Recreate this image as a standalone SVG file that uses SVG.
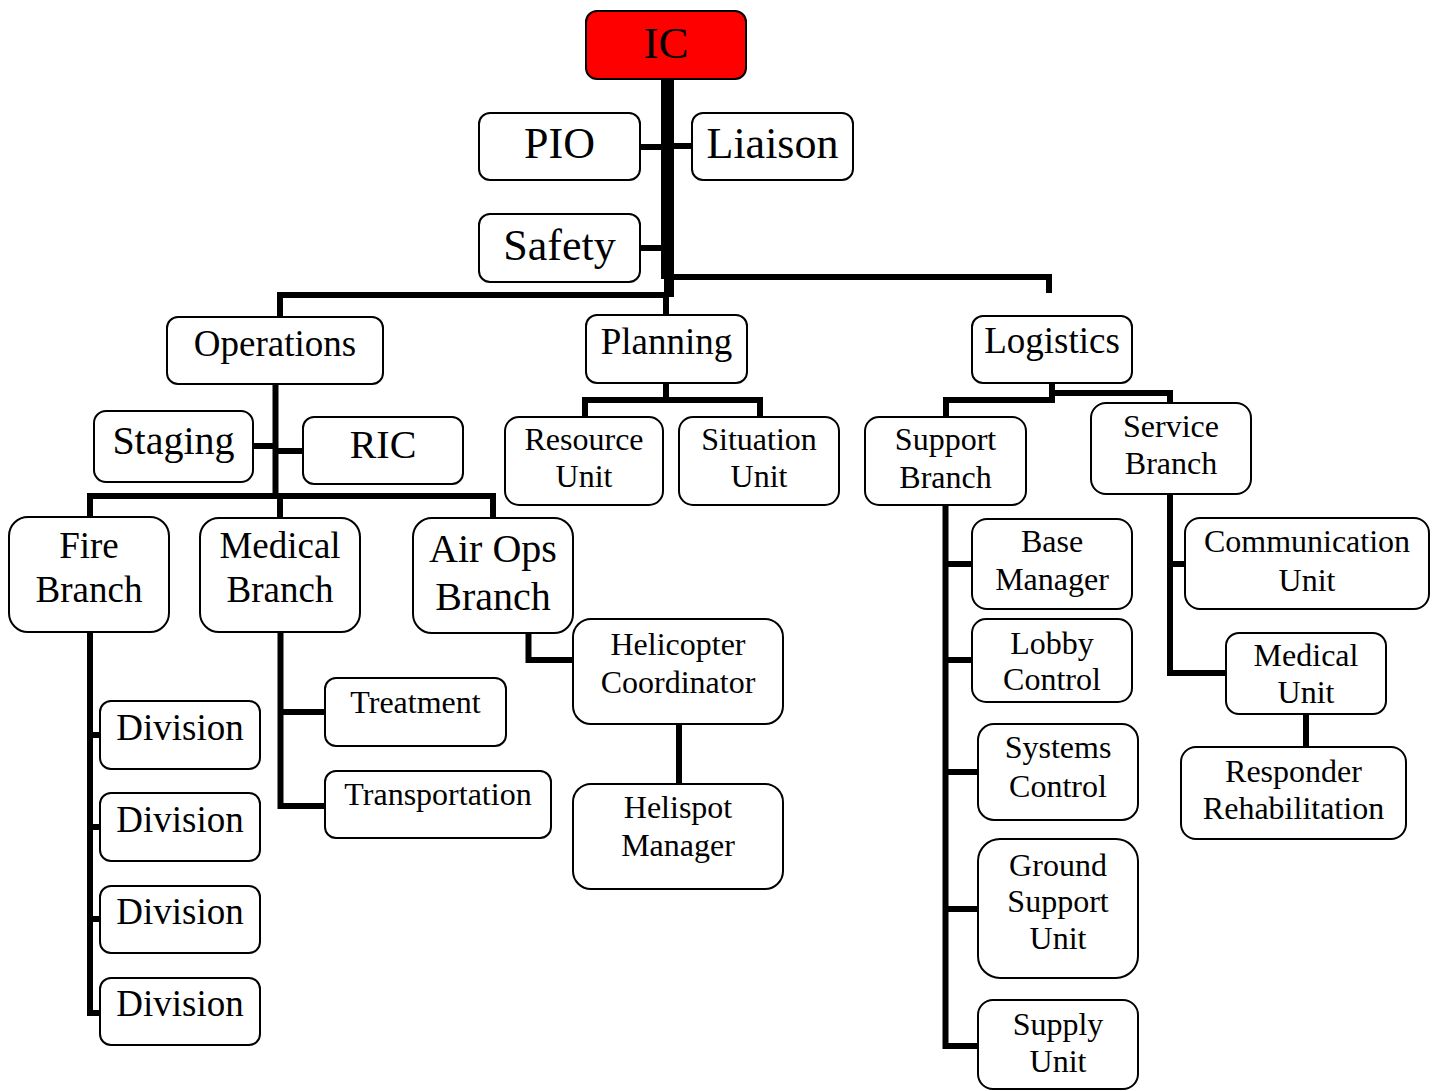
<svg xmlns="http://www.w3.org/2000/svg" width="1439" height="1091" viewBox="0 0 1439 1091">
<style>
.b{fill:#fff;stroke:#000;stroke-width:2}
.r{fill:#ff0000;stroke:#000;stroke-width:2}
.c{fill:none;stroke:#000;stroke-width:6;stroke-linejoin:miter;stroke-linecap:butt}
text{font-family:"Liberation Serif","Times New Roman",serif;fill:#000;text-anchor:middle}
.f45{font-size:45px}.f44{font-size:44px}.f40{font-size:40px}.f37{font-size:37px}.f32{font-size:32px}
</style>
<rect width="1439" height="1091" fill="#fff"/>
<g id="connectors">
<rect x="661" y="79" width="13" height="200" fill="#000"/>
<rect x="664" y="279" width="10" height="18" fill="#000"/>
<path class="c" d="M666 297V316"/>
<path class="c" d="M640 147H661M674 146H692M640 248H661"/>
<path class="c" d="M674 277H1049V293"/>
<path class="c" d="M664 295H280V317"/>
<path class="c" d="M275.5 384V499"/>
<path class="c" d="M253 446H275M275 451H303"/>
<path class="c" d="M90 517V496H493V518M280 496V518"/>
<path class="c" d="M666 383V400M585 417V400H760V417"/>
<path class="c" d="M1052 383V400H946V417M1052 393H1170V403"/>
<path class="c" d="M90 632V1013H100M90 735H100M90 827H100M90 919H100"/>
<path class="c" d="M280.5 632V806H325M280 712H325"/>
<path class="c" d="M528.5 633V660H573"/>
<path class="c" d="M679 724V784"/>
<path class="c" d="M945.5 505V1046H978M945 564H972M945 660H972M945 772H978M945 909H978"/>
<path class="c" d="M1170 494V673H1226M1170 564H1185"/>
<path class="c" d="M1306 714V747"/>
</g>
<g id="ic"><rect class="r" x="586" y="11" width="160" height="68" rx="11"/><text class="f45" x="666" y="58">IC</text></g>
<g id="pio"><rect class="b" x="479" y="113" width="161" height="67" rx="11"/><text class="f44" x="559.5" y="158">PIO</text></g>
<g id="liaison"><rect class="b" x="692" y="113" width="161" height="67" rx="11"/><text class="f44" x="772.5" y="158">Liaison</text></g>
<g id="safety"><rect class="b" x="479" y="214" width="161" height="68" rx="11"/><text class="f44" x="559.5" y="260">Safety</text></g>
<g id="operations"><rect class="b" x="167" y="317" width="216" height="67" rx="11"/><text class="f37" x="275" y="356">Operations</text></g>
<g id="planning"><rect class="b" x="586" y="315" width="161" height="68" rx="11"/><text class="f37" x="666.5" y="354">Planning</text></g>
<g id="logistics"><rect class="b" x="972" y="316" width="160" height="67" rx="11"/><text class="f37" x="1052" y="353">Logistics</text></g>
<g id="staging"><rect class="b" x="94" y="411" width="159" height="71" rx="12"/><text class="f40" x="173.5" y="454">Staging</text></g>
<g id="ric"><rect class="b" x="303" y="417" width="160" height="67" rx="11"/><text class="f40" x="383" y="458">RIC</text></g>
<g id="fire-branch"><rect class="b" x="9" y="517" width="160" height="115" rx="19"/><text class="f37" x="89" y="558">Fire</text><text class="f37" x="89" y="602">Branch</text></g>
<g id="medical-branch"><rect class="b" x="200" y="518" width="160" height="114" rx="19"/><text class="f37" x="280" y="558">Medical</text><text class="f37" x="280" y="602">Branch</text></g>
<g id="air-ops-branch"><rect class="b" x="413" y="518" width="160" height="115" rx="19"/><text class="f40" x="493" y="562">Air Ops</text><text class="f40" x="493" y="610">Branch</text></g>
<g id="resource-unit"><rect class="b" x="505" y="417" width="158" height="88" rx="14"/><text class="f32" x="584" y="450">Resource</text><text class="f32" x="584" y="487">Unit</text></g>
<g id="situation-unit"><rect class="b" x="679" y="417" width="160" height="88" rx="14"/><text class="f32" x="759" y="450">Situation</text><text class="f32" x="759" y="487">Unit</text></g>
<g id="support-branch"><rect class="b" x="865" y="417" width="161" height="88" rx="14"/><text class="f32" x="945.5" y="450">Support</text><text class="f32" x="945.5" y="488">Branch</text></g>
<g id="service-branch"><rect class="b" x="1091" y="403" width="160" height="91" rx="15"/><text class="f32" x="1171" y="437">Service</text><text class="f32" x="1171" y="474">Branch</text></g>
<g id="base-manager"><rect class="b" x="972" y="519" width="160" height="90" rx="15"/><text class="f32" x="1052" y="552">Base</text><text class="f32" x="1052" y="590">Manager</text></g>
<g id="lobby-control"><rect class="b" x="972" y="619" width="160" height="83" rx="14"/><text class="f32" x="1052" y="654">Lobby</text><text class="f32" x="1052" y="690">Control</text></g>
<g id="systems-control"><rect class="b" x="978" y="724" width="160" height="96" rx="16"/><text class="f32" x="1058" y="758">Systems</text><text class="f32" x="1058" y="797">Control</text></g>
<g id="ground-support-unit"><rect class="b" x="978" y="839" width="160" height="139" rx="22"/><text class="f32" x="1058" y="876">Ground</text><text class="f32" x="1058" y="912">Support</text><text class="f32" x="1058" y="949">Unit</text></g>
<g id="supply-unit"><rect class="b" x="978" y="1000" width="160" height="89" rx="15"/><text class="f32" x="1058" y="1035">Supply</text><text class="f32" x="1058" y="1072">Unit</text></g>
<g id="communication-unit"><rect class="b" x="1185" y="518" width="244" height="91" rx="15"/><text class="f32" x="1307" y="552">Communication</text><text class="f32" x="1307" y="591">Unit</text></g>
<g id="medical-unit"><rect class="b" x="1226" y="633" width="160" height="81" rx="13"/><text class="f32" x="1306" y="666">Medical</text><text class="f32" x="1306" y="703">Unit</text></g>
<g id="responder-rehabilitation"><rect class="b" x="1181" y="747" width="225" height="92" rx="15"/><text class="f32" x="1293.5" y="782">Responder</text><text class="f32" x="1293.5" y="819">Rehabilitation</text></g>
<g id="division-1"><rect class="b" x="100" y="701" width="160" height="68" rx="11"/><text class="f37" x="180" y="740">Division</text></g>
<g id="division-2"><rect class="b" x="100" y="793" width="160" height="68" rx="11"/><text class="f37" x="180" y="832">Division</text></g>
<g id="division-3"><rect class="b" x="100" y="886" width="160" height="67" rx="11"/><text class="f37" x="180" y="924">Division</text></g>
<g id="division-4"><rect class="b" x="100" y="978" width="160" height="67" rx="11"/><text class="f37" x="180" y="1016">Division</text></g>
<g id="treatment"><rect class="b" x="325" y="678" width="181" height="68" rx="11"/><text class="f32" x="415.5" y="713">Treatment</text></g>
<g id="transportation"><rect class="b" x="325" y="771" width="226" height="67" rx="11"/><text class="f32" x="438" y="805">Transportation</text></g>
<g id="helicopter-coordinator"><rect class="b" x="573" y="619" width="210" height="105" rx="18"/><text class="f32" x="678" y="655">Helicopter</text><text class="f32" x="678" y="693">Coordinator</text></g>
<g id="helispot-manager"><rect class="b" x="573" y="784" width="210" height="105" rx="18"/><text class="f32" x="678" y="818">Helispot</text><text class="f32" x="678" y="856">Manager</text></g>
</svg>
